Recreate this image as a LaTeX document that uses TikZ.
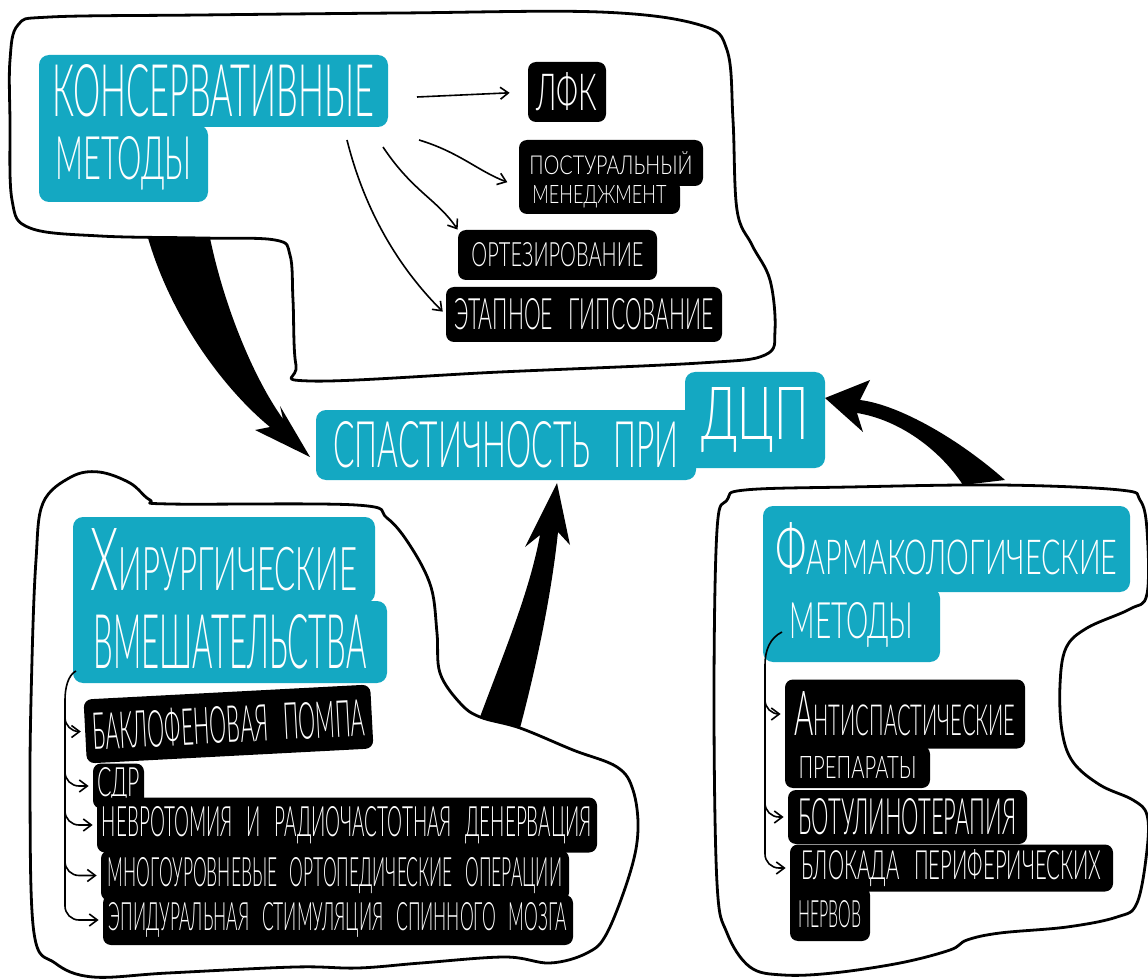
\documentclass[tikz,border=0pt]{standalone}
\usepackage{fontspec}
\usepackage{graphicx}
\usetikzlibrary{arrows.meta}

\IfFontExistsTF{Lato-Light.ttf}
  {\newfontfamily\hand{Lato-Light.ttf}}
  {\IfFontExistsTF{OpenSans-Light.ttf}
    {\newfontfamily\hand{OpenSans-Light.ttf}}
    {\newfontfamily\hand{Liberation Sans}}}

\newlength\pxu
\setlength\pxu{0.5pt}
% text squeezed into a box of given width and height (in px)
\newcommand\handfit[3]{\resizebox{#1\pxu}{#2\pxu}{\hand #3}}
\newcommand\firstcap[1]{{\fontsize{14.5}{14.5}\selectfont #1}}
\newcommand\wsp{\hspace{0.45em}}

\definecolor{dcpteal}{RGB}{20,168,194}

\tikzset{
    tealbox/.style = {fill = dcpteal, text = white, inner sep = 0pt, rounded corners = 5pt},
    blackbox/.style = {fill = black, text = white, inner sep = 0pt, rounded corners = 4pt},
    bubble/.style = {draw, line width = 1.4pt, line join = round},
    thinline/.style = {line width = 0.8pt}
}

\begin{document}
\begin{tikzpicture}[
        > = {Straight Barb[length = 4pt, width = 6pt]},
        x = 0.5pt, y = -0.5pt
    ]
    \fill[white] (0,0) rectangle (1148,979);
    \useasboundingbox (0,0) rectangle (1148,979);

    % bubbles
    \draw[bubble] plot[smooth cycle, tension = 0.6] coordinates {
        (10,60) (18,25) (50,17) (200,15) (400,13) (600,12) (700,25) (727,50)
        (733,120) (737,210) (752,245) (770,280) (775,330) (765,355) (700,363)
        (500,372) (310,381) (296,365) (293,300) (290,255) (275,240) (200,238)
        (100,236) (30,228) (12,200) (10,120)};
    \draw[bubble] plot[smooth cycle, tension = 0.6] coordinates {
        (36,560) (43,503) (71,477) (99,472) (130,483) (150,500) (170,504)
        (356,505) (387,518) (411,547) (431,587) (437,633) (440,673) (460,703)
        (480,717) (520,728) (573,750) (617,767) (633,790) (638,830) (630,873)
        (607,933) (587,953) (550,963) (505,957) (421,963) (358,968) (295,967)
        (168,973) (93,977) (55,963) (34,933) (30,793) (32,660)};
    \draw[bubble] plot[smooth cycle, tension = 0.6] coordinates {
        (714,700) (717,530) (727,500) (745,490) (850,487) (1000,485) (1120,490)
        (1140,500) (1147,530) (1147,594) (1130,609) (1087,628) (1066,648)
        (1060,685) (1062,731) (1073,762) (1100,785) (1133,800) (1147,815)
        (1147,850) (1137,903) (1117,917) (1067,927) (1000,933) (967,940)
        (950,950) (900,963) (833,973) (783,975) (750,967) (727,933) (717,883)};

    % big arrows
    \fill (148,238) .. controls (172,320) and (225,390) .. (270,427) -- (255,430) -- (310,457)
        -- (280,406) -- (283,419) .. controls (255,380) and (225,310) .. (210,238) -- cycle;
    \fill (480,717) .. controls (505,650) and (530,590) .. (540,535) -- (525,547) -- (557,483)
        -- (570,545) -- (558,532) .. controls (552,590) and (538,660) .. (520,728) -- cycle;
    \fill (963,485) .. controls (940,450) and (900,420) .. (857,413) -- (863,432) -- (825,398)
        -- (870,380) -- (860,400) .. controls (900,405) and (960,440) .. (1005,480) -- cycle;

    % conservative methods
    \node[tealbox, minimum width = 349\pxu, minimum height = 72\pxu] (kons) at (213.5,91) {\handfit{322}{52}{КОНСЕРВАТИВНЫЕ}};
    \node[tealbox, minimum width = 169\pxu, minimum height = 77\pxu] (kmet) at (123.5,163.5) {\handfit{136}{43}{МЕТОДЫ}};
    \node[blackbox, minimum width = 78\pxu, minimum height = 60\pxu] (lfk) at (567,92) {\handfit{61}{38}{ЛФК}};
    \node[blackbox, minimum width = 184\pxu, minimum height = 46\pxu] (post1) at (611,163) {\handfit{163}{23}{ПОСТУРАЛЬНЫЙ}};
    \node[blackbox, minimum width = 161\pxu, minimum height = 34\pxu] (post2) at (599.5,197) {\handfit{134}{18}{МЕНЕДЖМЕНТ}};
    \node[blackbox, minimum width = 199\pxu, minimum height = 50\pxu] (ortez) at (557.5,255) {\handfit{172}{24}{ОРТЕЗИРОВАНИЕ}};
    \node[blackbox, minimum width = 276\pxu, minimum height = 55\pxu] (etap) at (584,314.5) {\handfit{259}{31}{ЭТАПНОЕ \wsp ГИПСОВАНИЕ}};
    % fill the joins between stacked boxes
    \fill[dcpteal] (39,112) rectangle (52,140);
    \fill[black] (519,172) rectangle (526,190);

    \coordinate (ka) at (417,97);
    \coordinate (kb) at (419,140);
    \coordinate (kc) at (383,147);
    \coordinate (kd) at (347,140);
    \draw[thinline, ->, shorten > = 9pt] (ka) -- (lfk.west);
    \draw[thinline, ->, shorten > = 6pt] (kb) .. controls +(40,12) and +(-40,-15) .. (post1.south west);
    \draw[thinline, ->] (kc) .. controls +(30,45) and +(-20,-30) .. (ortez.north west);
    \draw[thinline, ->, shorten > = 2pt] (kd) .. controls +(20,80) and +(-40,-40) .. (etap.west);

    % centre
    \node[tealbox, minimum width = 380\pxu, minimum height = 70\pxu] (spast) at (506,445) {\handfit{345}{46}{СПАСТИЧНОСТЬ \wsp ПРИ}};
    \node[tealbox, minimum width = 140\pxu, minimum height = 96\pxu] (dcp) at (755,420) {\handfit{107}{52}{ДЦП}};

    % surgery
    \node[tealbox, minimum width = 302\pxu, minimum height = 86\pxu] (hir) at (224,560) {\handfit{267}{62}{\firstcap{Х}ИРУРГИЧЕСКИЕ}};
    \node[tealbox, minimum width = 314\pxu, minimum height = 82\pxu] (vmesh) at (230,642) {\handfit{273}{54}{ВМЕШАТЕЛЬСТВА}};
    \fill[dcpteal] (73,588) rectangle (83,612);
    \node[blackbox, minimum width = 287\pxu, minimum height = 64\pxu, rotate = 3] (bakl) at (228.5,724) {\handfit{273}{38}{БАКЛОФЕНОВАЯ \wsp ПОМПА}};
    \node[blackbox, minimum width = 51\pxu, minimum height = 45\pxu] (sdr) at (118.5,786) {\handfit{43}{29}{СДР}};
    \node[blackbox, minimum width = 500\pxu, minimum height = 55\pxu] (nevr) at (347,825) {\handfit{490}{30}{НЕВРОТОМИЯ \wsp И \wsp РАДИОЧАСТОТНАЯ \wsp ДЕНЕРВАЦИЯ}};
    \node[blackbox, minimum width = 468\pxu, minimum height = 50\pxu] (mnog) at (335,875.5) {\handfit{454}{29}{МНОГОУРОВНЕВЫЕ \wsp ОРТОПЕДИЧЕСКИЕ \wsp ОПЕРАЦИИ}};
    \node[blackbox, minimum width = 470\pxu, minimum height = 50\pxu] (epid) at (338,920) {\handfit{458}{28}{ЭПИДУРАЛЬНАЯ \wsp СТИМУЛЯЦИЯ \wsp СПИННОГО \wsp МОЗГА}};

    \coordinate (ltop) at (76,671);
    \coordinate (lbar) at (65,700);
    \draw[thinline] (ltop) .. controls +(-8,4) and +(0,-12) .. (lbar);
    \foreach \n in {bakl, sdr, nevr, mnog, epid}
        \draw[thinline, ->, rounded corners = 7pt, shorten > = 2pt] (lbar) |- (\n.west);

    % pharmacology
    \node[tealbox, minimum width = 367\pxu, minimum height = 86\pxu] (farm) at (946.5,549) {\handfit{342}{52}{\firstcap{Ф}АРМАКОЛОГИЧЕСКИЕ}};
    \node[tealbox, minimum width = 177\pxu, minimum height = 74\pxu] (fmet) at (851.5,625) {\handfit{124}{36}{МЕТОДЫ}};
    \fill[dcpteal] (763,578) rectangle (772,600);
    \node[blackbox, minimum width = 240\pxu, minimum height = 69\pxu] (anti) at (905,714) {\handfit{221}{44}{\firstcap{А}НТИСПАСТИЧЕСКИЕ}};
    \node[blackbox, minimum width = 145\pxu, minimum height = 42\pxu] (prep) at (857.5,767) {\handfit{118}{22}{ПРЕПАРАТЫ}};
    \node[blackbox, minimum width = 239\pxu, minimum height = 54\pxu] (botu) at (907.5,817) {\handfit{218}{36}{БОТУЛИНОТЕРАПИЯ}};
    \node[blackbox, minimum width = 323\pxu, minimum height = 47\pxu] (blok) at (951.5,868) {\handfit{300}{30}{БЛОКАДА \wsp ПЕРИФЕРИЧЕСКИХ}};
    \node[blackbox, minimum width = 80\pxu, minimum height = 54\pxu] (nerv) at (830,914) {\handfit{63}{27}{НЕРВОВ}};
    \fill[black] (785,738) rectangle (791,758);
    \fill[black] (790,880) rectangle (796,900);

    \coordinate (rtop) at (782,632);
    \coordinate (rbar) at (765,665);
    \draw[thinline] (rtop) .. controls +(-12,6) and +(0,-15) .. (rbar);
    \foreach \n in {anti, botu, blok}
        \draw[thinline, ->, rounded corners = 7pt, shorten > = 2pt] (rbar) |- (\n.west);
\end{tikzpicture}
\end{document}
